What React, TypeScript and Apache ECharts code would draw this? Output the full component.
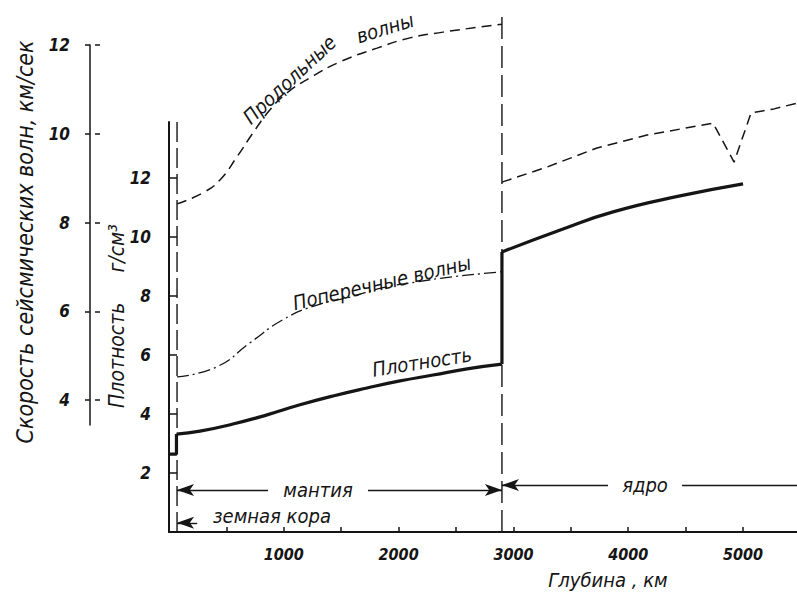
import React, { useEffect, useRef } from "react";
import * as echarts from "echarts";

const FONT = "'DejaVu Sans Condensed', 'Liberation Sans Narrow', 'DejaVu Sans', sans-serif";
const INK = "#151515";

// Longitudinal (P) waves, km/s
const pMantleDepth = [70, 296, 444, 592, 732, 880, 1028, 1228, 1490, 1812, 2099, 2387, 2900];
const pMantleVel = [8.42, 8.67, 8.96, 9.48, 10.02, 10.54, 10.92, 11.26, 11.62, 11.93, 12.16, 12.29, 12.47];
const pCoreDepth = [2900, 3293, 3728, 4164, 4739, 4922, 5070, 5270, 5470];
const pCoreVel = [8.91, 9.25, 9.68, 9.97, 10.24, 9.36, 10.47, 10.56, 10.69];

// Transverse (S) waves, km/s
const sMantleDepth = [70, 418, 706, 993, 1289, 1577, 1864, 2160, 2448, 2900];
const sMantleVel = [4.52, 4.75, 5.29, 5.81, 6.14, 6.32, 6.53, 6.66, 6.77, 6.89];

// Density, g/cm3
const densCrustDepth = [0, 65, 65];
const densCrustVal = [2.64, 2.64, 3.32];
const densMantleDepth = [65, 270, 557, 854, 1141, 1429, 1725, 2012, 2300, 2596, 2900];
const densMantleVal = [3.32, 3.42, 3.66, 3.97, 4.31, 4.61, 4.88, 5.12, 5.32, 5.53, 5.69];
const densJumpDepth = [2900, 2900];
const densJumpVal = [5.69, 9.49];
const densCoreDepth = [2900, 3432, 3868, 4451, 5000];
const densCoreVal = [9.49, 10.27, 10.85, 11.39, 11.8];

// Boundaries
const mohoDepth = 70;
const coreDepth = 2900;

// Ticks
const depthTicks = [500, 1000, 1500, 2000, 2500, 3000, 3500, 4000, 4500, 5000];
const depthLabels = [1000, 2000, 3000, 4000, 5000];
const densTicks = [2, 4, 6, 8, 10, 12];
const velTicks = [4, 6, 8, 10, 12];

const zip = (a: number[], b: number[]) => a.map((v, i) => [v, b[i]]);

const lbl = (size = 17, weight: any = "normal") => ({
  color: INK,
  fontFamily: FONT,
  fontStyle: "italic" as const,
  fontWeight: weight,
  fontSize: size,
});

export default function App() {
  const ref = useRef<HTMLDivElement>(null);
  useEffect(() => {
    if (!ref.current) return;
    const chart = echarts.init(ref.current, null, { renderer: "svg" });
    const thin = { color: INK, width: 1.4 };
    const plain = (v: number) => String(v);
    const option: any = {
      animation: false,
      backgroundColor: "#fff",
      grid: [
        { left: 169, right: 0, top: 0, bottom: 64 },
        { left: 169, width: 10, top: 122, bottom: 64 },
        { left: 90, width: 10, top: 45, height: 380 },
      ],
      xAxis: [
        {
          gridIndex: 0,
          type: "value",
          min: 0,
          max: 5470,
          axisLine: { lineStyle: { color: INK, width: 2 } },
          axisTick: { inside: true, length: 5, customValues: depthTicks, lineStyle: { color: INK, width: 1.5 } },
          axisLabel: { customValues: depthLabels, margin: 14, formatter: plain, ...lbl(16, "bold") },
          splitLine: { show: false },
        },
        { gridIndex: 1, type: "value", show: false, min: 0, max: 1 },
        { gridIndex: 2, type: "value", show: false, min: 0, max: 1 },
      ],
      yAxis: [
        { gridIndex: 0, type: "value", show: false, min: 1.025, max: 13.014 },
        { gridIndex: 0, type: "value", show: false, min: 0, max: 18.03 },
        {
          gridIndex: 1,
          type: "value",
          min: 0,
          max: 13.9,
          axisLine: { show: true, lineStyle: { color: INK, width: 2 } },
          axisTick: { show: true, inside: true, length: 8, customValues: densTicks, lineStyle: { color: INK, width: 1.5 } },
          axisLabel: { customValues: densTicks, margin: 18, formatter: plain, ...lbl(17, "bold") },
          splitLine: { show: false },
        },
        {
          gridIndex: 2,
          type: "value",
          min: 3.44,
          max: 12,
          axisLine: { show: true, lineStyle: { color: INK, width: 1.5 } },
          axisTick: { show: true, inside: false, length: 5, customValues: velTicks, lineStyle: { color: INK, width: 1.5 } },
          axisLabel: { customValues: velTicks, margin: 20, formatter: plain, ...lbl(17, "bold") },
          splitLine: { show: false },
        },
        {
          gridIndex: 2,
          type: "value",
          min: 3.44,
          max: 12,
          axisLine: { show: false },
          axisTick: { show: true, inside: true, length: 5, customValues: velTicks, lineStyle: { color: INK, width: 1.5 } },
          axisLabel: { show: false },
          splitLine: { show: false },
        },
      ],
      series: [
        {
          name: "Продольные волны (мантия)",
          type: "line",
          xAxisIndex: 0,
          yAxisIndex: 0,
          data: zip(pMantleDepth, pMantleVel),
          smooth: true,
          symbol: "none",
          lineStyle: { color: INK, width: 1.5, type: [10, 6] },
          markPoint: {
            symbol: "circle",
            symbolSize: 0,
            data: [
              { name: "Продольные", coord: [1050, 11.22], label: { rotate: 43 } },
              { name: "волны", coord: [1882, 12.38], label: { rotate: 17 } },
              { name: "Поперечные волны", coord: [1855, 6.64], label: { rotate: 13 } },
            ],
            label: { show: true, position: "inside", formatter: "{b}", ...lbl(20) },
          },
        },
        {
          name: "Продольные волны (ядро)",
          type: "line",
          xAxisIndex: 0,
          yAxisIndex: 0,
          data: zip(pCoreDepth, pCoreVel),
          smooth: false,
          symbol: "none",
          lineStyle: { color: INK, width: 1.5, type: [10, 6] },
        },
        {
          name: "Поперечные волны",
          type: "line",
          xAxisIndex: 0,
          yAxisIndex: 0,
          data: zip(sMantleDepth, sMantleVel),
          smooth: true,
          symbol: "none",
          lineStyle: { color: INK, width: 1.3, type: [12, 4, 2, 4] },
        },
        {
          name: "Плотность кора",
          type: "line",
          xAxisIndex: 0,
          yAxisIndex: 1,
          data: zip(densCrustDepth, densCrustVal),
          symbol: "none",
          lineStyle: { color: INK, width: 3.2 },
        },
        {
          name: "Плотность мантия",
          type: "line",
          xAxisIndex: 0,
          yAxisIndex: 1,
          data: zip(densMantleDepth, densMantleVal),
          smooth: true,
          symbol: "none",
          lineStyle: { color: INK, width: 3.2 },
          markPoint: {
            symbol: "circle",
            symbolSize: 0,
            data: [{ name: "Плотность", coord: [2204, 5.76], label: { rotate: 9 } }],
            label: { show: true, position: "inside", formatter: "{b}", ...lbl(20) },
          },
        },
        {
          name: "Плотность скачок",
          type: "line",
          xAxisIndex: 0,
          yAxisIndex: 1,
          data: zip(densJumpDepth, densJumpVal),
          symbol: "none",
          lineStyle: { color: INK, width: 3.2 },
        },
        {
          name: "Плотность ядро",
          type: "line",
          xAxisIndex: 0,
          yAxisIndex: 1,
          data: zip(densCoreDepth, densCoreVal),
          smooth: true,
          symbol: "none",
          lineStyle: { color: INK, width: 3.2 },
        },
        {
          name: "Граница ядра",
          type: "line",
          xAxisIndex: 0,
          yAxisIndex: 1,
          data: [
            [coreDepth, 0],
            [coreDepth, 17.5],
          ],
          symbol: "none",
          lineStyle: { color: INK, width: 1.4, type: [22, 7] },
          markLine: {
            silent: true,
            symbolSize: [9, 17],
            lineStyle: { ...thin, type: "solid" },
            label: { show: false },
            data: [
              [
                { coord: [mohoDepth, 1.42], symbol: "arrow" },
                { coord: [862, 1.42], symbol: "none" },
              ],
              [
                { coord: [1733, 1.42], symbol: "none" },
                { coord: [coreDepth, 1.42], symbol: "arrow" },
              ],
              [
                { coord: [coreDepth, 1.59], symbol: "arrow" },
                { coord: [3824, 1.59], symbol: "none" },
              ],
              [
                { coord: [4469, 1.59], symbol: "none" },
                { coord: [5470, 1.59], symbol: "none" },
              ],
              [
                { coord: [mohoDepth, 0.31], symbol: "arrow" },
                { coord: [245, 0.31], symbol: "none" },
              ],
            ],
          },
          markPoint: {
            symbol: "circle",
            symbolSize: 0,
            data: [
              { name: "мантия", coord: [1298, 1.42] },
              { name: "ядро", coord: [4146, 1.59] },
              { name: "земная кора", coord: [897, 0.54] },
            ],
            label: { show: true, position: "inside", formatter: "{b}", ...lbl(20) },
          },
        },
        {
          name: "Граница коры",
          type: "line",
          xAxisIndex: 0,
          yAxisIndex: 1,
          data: [
            [mohoDepth, 0],
            [mohoDepth, 14.0],
          ],
          symbol: "none",
          lineStyle: { color: INK, width: 1.4, type: [20, 6] },
        },
      ],
      graphic: [
        {
          type: "text",
          x: 25,
          y: 242,
          rotation: Math.PI / 2,
          style: {
            text: "Скорость сейсмических волн, км/сек",
            align: "center",
            verticalAlign: "middle",
            fill: INK,
            font: `italic 23px ${FONT}`,
          },
        },
        {
          type: "text",
          x: 117,
          y: 316,
          rotation: Math.PI / 2,
          style: {
            text: "Плотность     г/см³",
            align: "center",
            verticalAlign: "middle",
            fill: INK,
            font: `italic 21px ${FONT}`,
          },
        },
        {
          type: "text",
          x: 608,
          y: 580,
          style: {
            text: "Глубина , км",
            align: "center",
            verticalAlign: "middle",
            fill: INK,
            font: `italic 20px ${FONT}`,
          },
        },
      ],
    };
    chart.setOption(option);
    return () => chart.dispose();
  }, []);
  return (
    <div
      ref={ref}
      style={{ position: "fixed", left: 0, top: 0, width: 797, height: 596, background: "#fff" }}
    />
  );
}
